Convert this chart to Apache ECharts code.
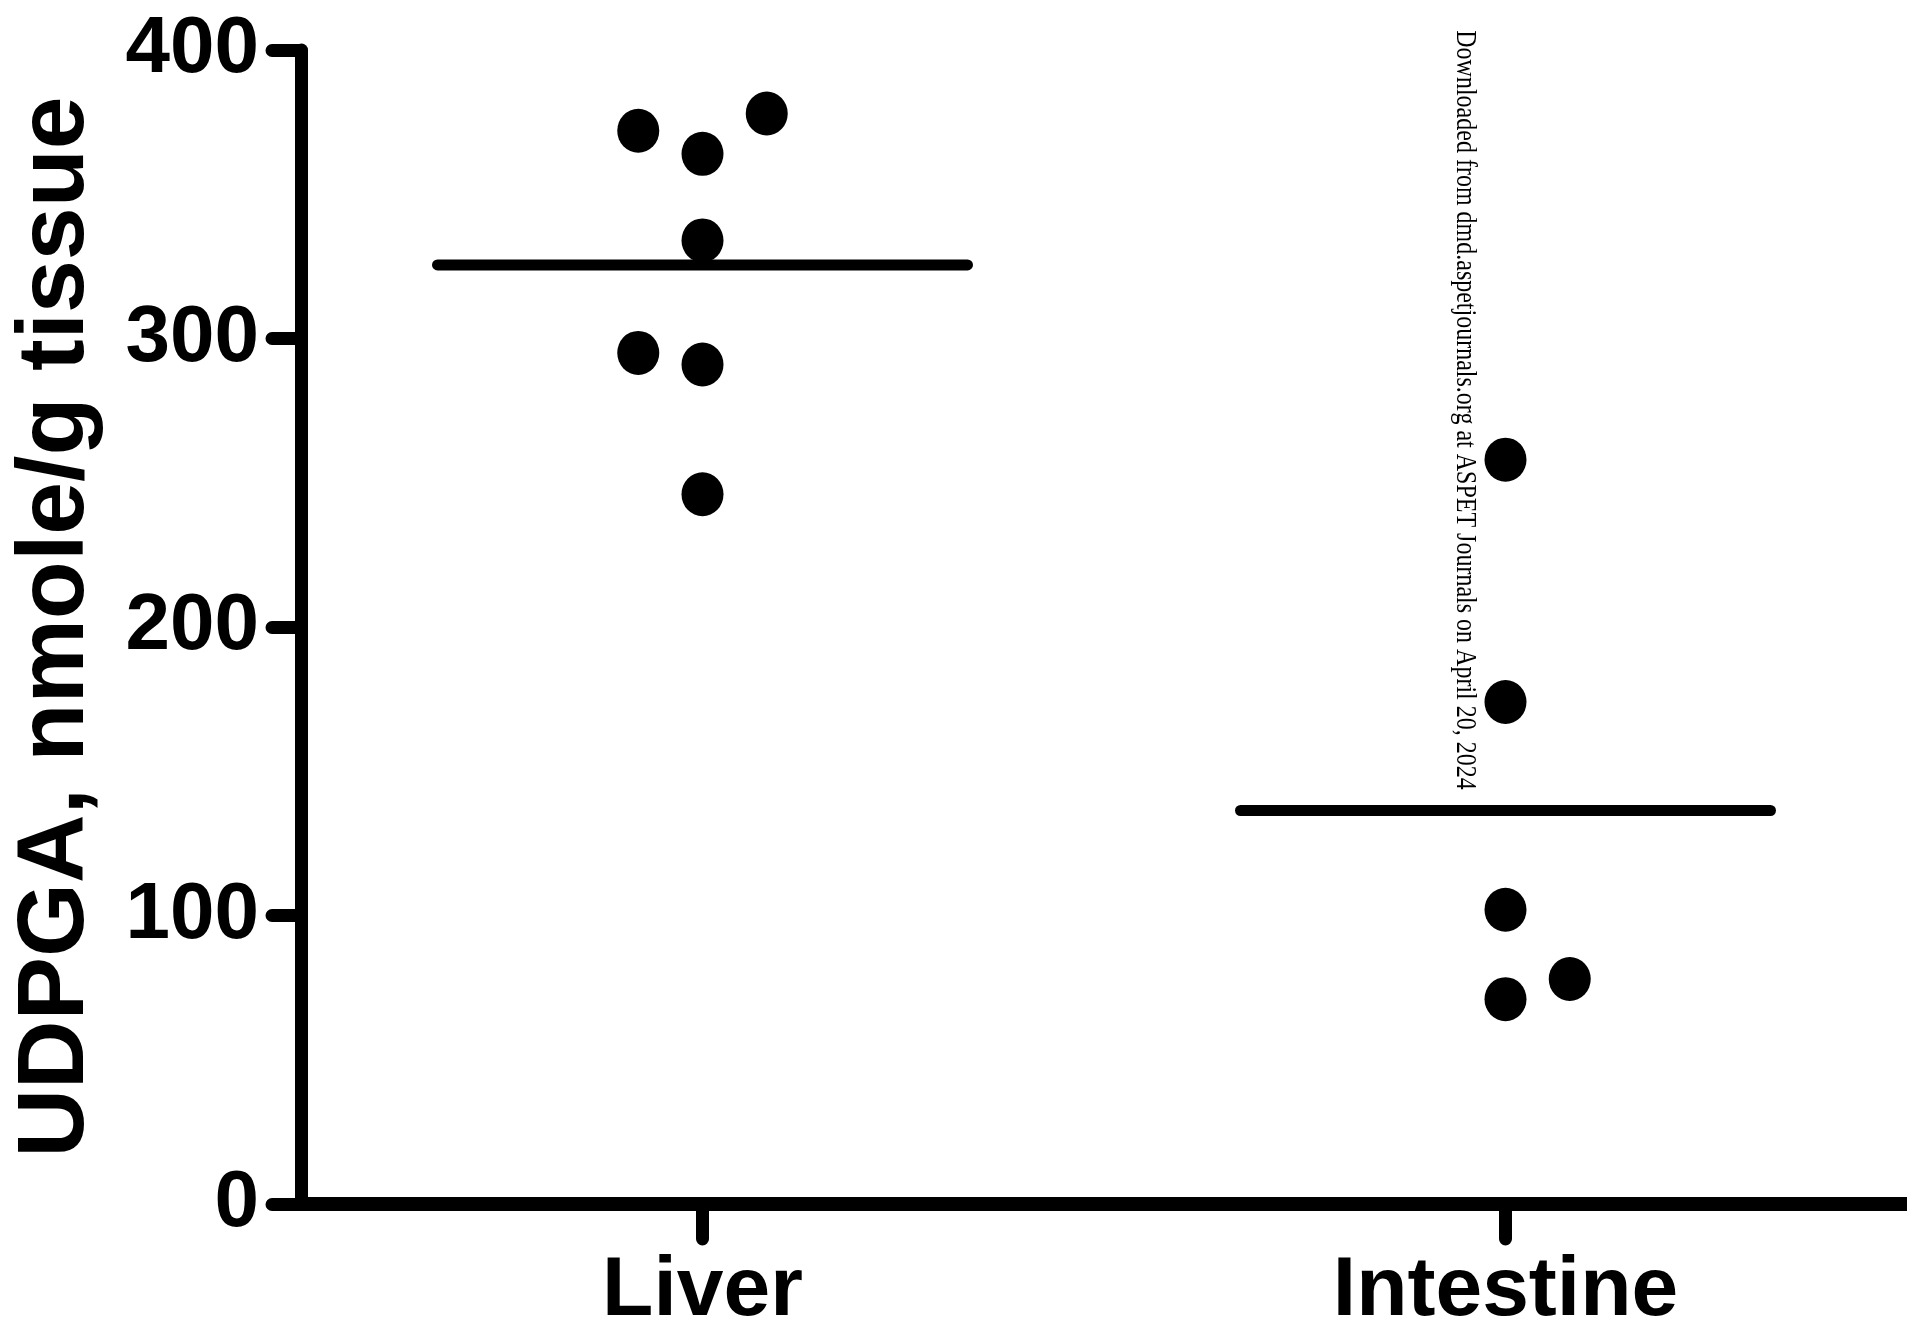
<!DOCTYPE html>
<html>
<head>
<meta charset="utf-8">
<style>
html,body{margin:0;padding:0;background:#fff;}
#chart{width:1907px;height:1329px;}
</style>
<script src="https://cdn.jsdelivr.net/npm/echarts@6/dist/echarts.min.js"></script>
</head>
<body>
<div id="chart"></div>
<script>
// ---- data ----
const categories = ['Liver', 'Intestine'];
const liverValues = [372, 364, 378, 334, 295, 291, 246];
const intestineValues = [258, 174, 102, 71, 78];
const meanValues = [325.5, 136.4];
const yTicks = [0, 100, 200, 300, 400];
const yAxisTitle = 'UDPGA, nmole/g tissue';
const watermark = 'Downloaded from dmd.aspetjournals.org at ASPET Journals on April 20, 2024';

// ---- layout helpers (column scatter offsets) ----
const liverJitter = [-1, 0, 1, 0, -1, 0, 0];
const intestineJitter = [0, 0, 0, 0, 1];
const jitterStep = 0.08;
const meanHalfWidth = 0.33;

function center(i) { return i + 0.5; }
function pts(vals, jit, i) {
  return vals.map((v, k) => [center(i) + jit[k] * jitterStep, v]);
}

const font = "'Liberation Sans', Arial, sans-serif";
const chart = echarts.init(document.getElementById('chart'));
const option = {
  animation: false,
  backgroundColor: '#ffffff',
  grid: { left: 301, right: 0, top: 50, bottom: 125, containLabel: false, outerBoundsMode: 'none' },
  xAxis: {
    type: 'value', min: 0, max: categories.length,
    splitLine: { show: false },
    axisLine: { show: true, onZero: false, lineStyle: { color: '#000', width: 14, cap: 'round' } },
    axisTick: { show: true, length: 35, customValues: categories.map((c, i) => center(i)),
      lineStyle: { color: '#000', width: 13, cap: 'round' } },
    axisLabel: { show: true, customValues: categories.map((c, i) => center(i)),
      formatter: v => categories[Math.round(v - 0.5)] || '',
      margin: 46, color: '#000', fontSize: 84, fontWeight: 'bold', fontFamily: font }
  },
  yAxis: {
    type: 'value', min: 0, max: 400, interval: 100,
    splitLine: { show: false },
    axisLine: { show: true, lineStyle: { color: '#000', width: 13, cap: 'round' } },
    axisTick: { show: true, length: 29, lineStyle: { color: '#000', width: 13, cap: 'round' } },
    axisLabel: { margin: 42, color: '#000', fontSize: 80, fontWeight: 'bold', fontFamily: font,
      formatter: v => yTicks.includes(v) ? String(v) : '' },
    name: yAxisTitle, nameLocation: 'middle', nameRotate: 90, nameGap: 197,
    nameTextStyle: { color: '#000', fontSize: 95, fontWeight: 'bold', fontFamily: font }
  },
  series: [
    { type: 'scatter', data: pts(liverValues, liverJitter, 0), symbol: 'circle', symbolSize: [42, 44],
      itemStyle: { color: '#000', opacity: 1 }, z: 3 },
    { type: 'scatter', data: pts(intestineValues, intestineJitter, 1), symbol: 'circle', symbolSize: [42, 44],
      itemStyle: { color: '#000', opacity: 1 }, z: 3 },
    ...meanValues.map((m, i) => ({
      type: 'line', symbol: 'none', z: 2,
      data: [[center(i) - meanHalfWidth, m], [center(i) + meanHalfWidth, m]],
      lineStyle: { color: '#000', width: 11, cap: 'round' }
    }))
  ],
  graphic: [{
    type: 'text', x: 1465, y: 410, rotation: -Math.PI / 2, scaleX: 0.8,
    style: { text: watermark, fill: '#000', font: "30px 'Liberation Serif', 'Times New Roman', serif",
      textAlign: 'center', textVerticalAlign: 'middle' }
  }]
};
chart.setOption(option);
</script>
</body>
</html>
